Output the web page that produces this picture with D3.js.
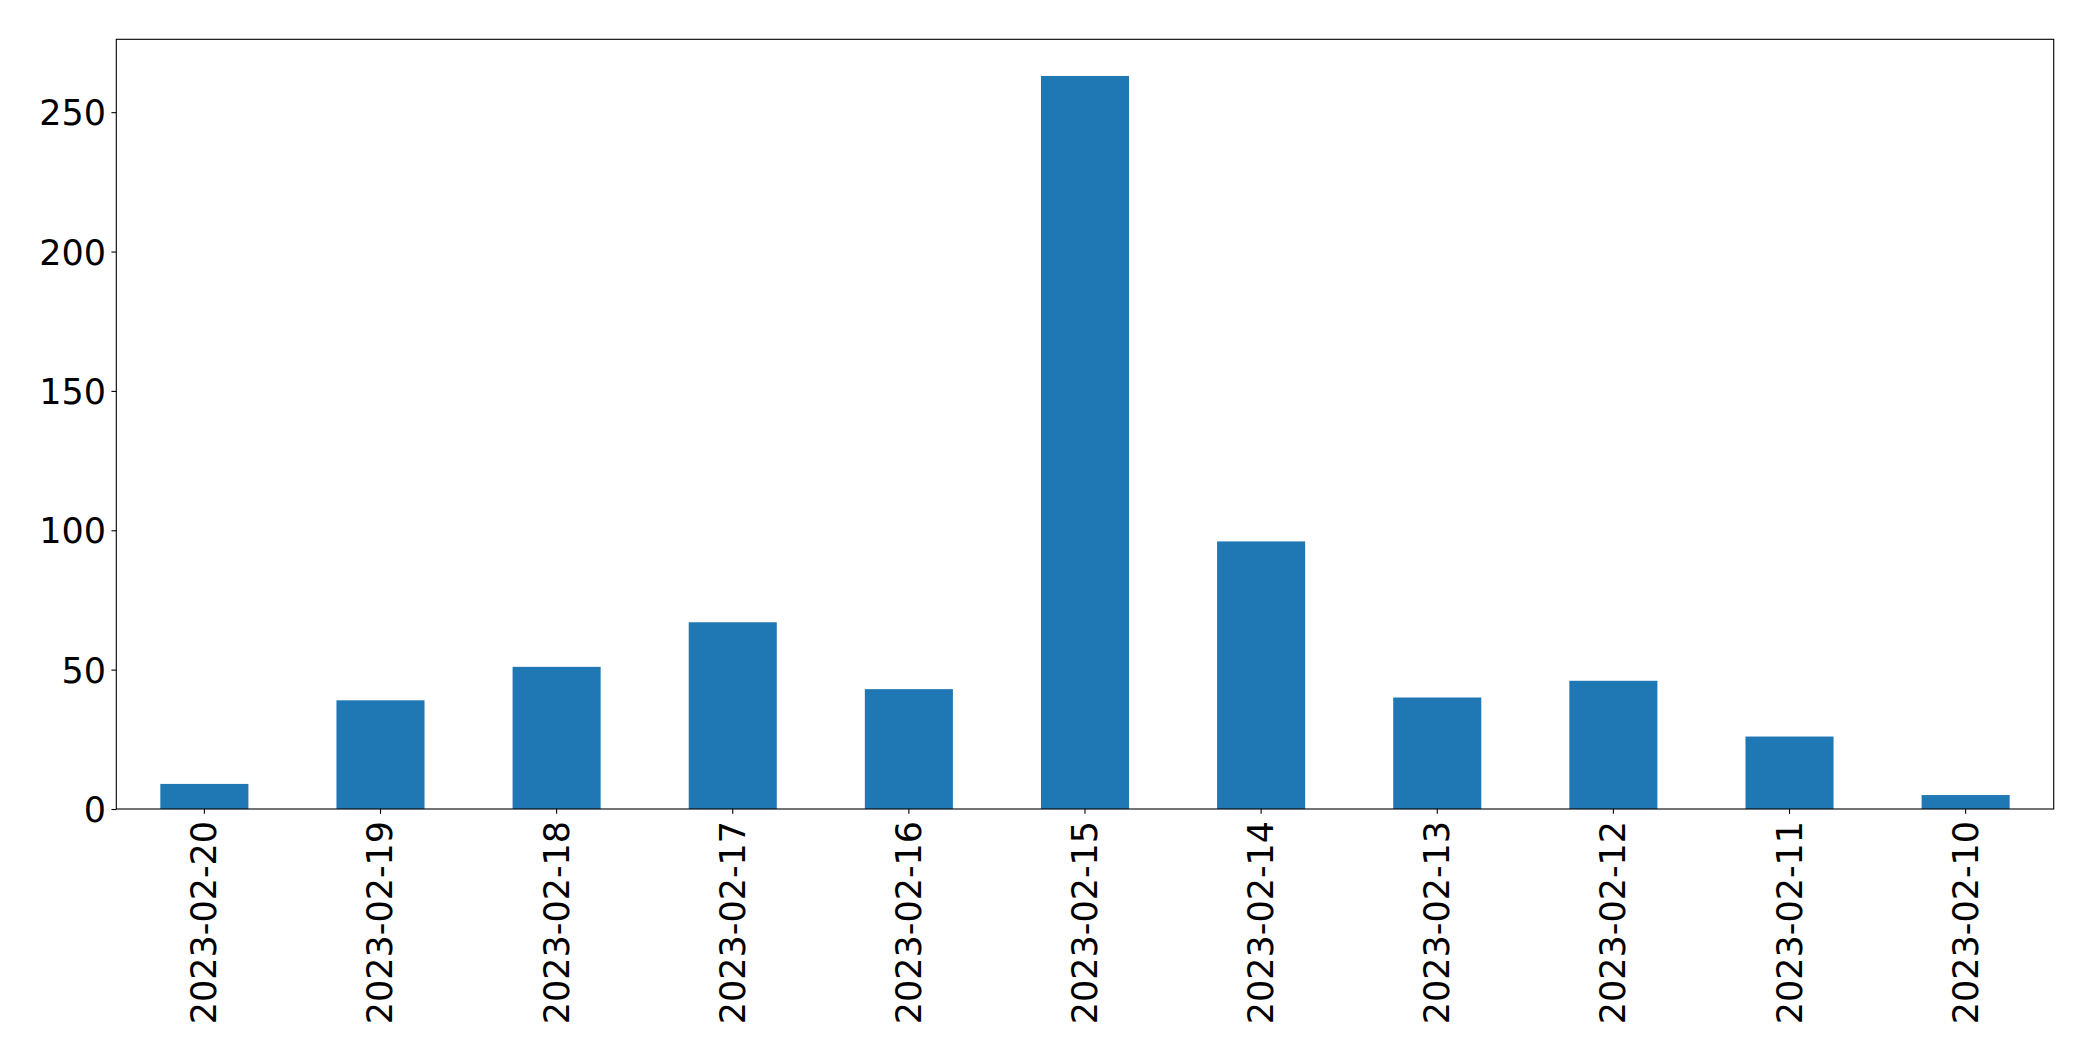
<!DOCTYPE html>
<html>
<head>
<meta charset="utf-8">
<script src="https://cdn.jsdelivr.net/npm/d3@7"></script>
<style>
  html, body { margin: 0; padding: 0; background: #fff; }
  svg { display: block; }
  text { font-family: "DejaVu Sans", sans-serif; fill: #000; }
</style>
</head>
<body>
<svg id="chart" width="2093" height="1061"></svg>
<script>
const categories = ["2023-02-20","2023-02-19","2023-02-18","2023-02-17","2023-02-16","2023-02-15","2023-02-14","2023-02-13","2023-02-12","2023-02-11","2023-02-10"];
const values = [9, 39, 51, 67, 43, 263, 96, 40, 46, 26, 5];
const yTicks = [0, 50, 100, 150, 200, 250];

const W = 2093, H = 1061;
const margin = {left: 116.3, right: W - 2053.7, top: 39.3, bottom: H - 809};
const iw = W - margin.left - margin.right;
const ih = H - margin.top - margin.bottom;

const svg = d3.select("#chart");
const g = svg.append("g").attr("transform", `translate(${margin.left},${margin.top})`);

const x = d3.scaleBand().domain(categories).range([0, iw]).paddingInner(0).paddingOuter(0);
const yMax = d3.max(values) * 1.05;
const y = d3.scaleLinear().domain([0, yMax]).range([ih, 0]);

const barW = x.bandwidth() * 0.5;
g.selectAll("rect.bar").data(values).join("rect")
  .attr("class", "bar")
  .attr("x", (d, i) => x(categories[i]) + (x.bandwidth() - barW) / 2)
  .attr("width", barW)
  .attr("y", d => y(d))
  .attr("height", d => ih - y(d))
  .attr("fill", "#1f77b4");

const tickLen = 4.86;
const fs = 35;

// Y axis
const yAxis = g.append("g").call(d3.axisLeft(y).tickValues(yTicks).tickSize(tickLen).tickPadding(5.5).tickFormat(d3.format("d")));
yAxis.select(".domain").remove();
yAxis.selectAll(".tick line").attr("stroke", "#000").attr("stroke-width", 1.1);
yAxis.selectAll(".tick text").attr("font-size", fs).attr("font-family", "DejaVu Sans").attr("fill", "#000").attr("dy", "0.36em");

// X axis
const xAxis = g.append("g").attr("transform", `translate(0,${ih})`)
  .call(d3.axisBottom(x).tickSize(tickLen).tickPadding(0));
xAxis.select(".domain").remove();
xAxis.selectAll(".tick line").attr("stroke", "#000").attr("stroke-width", 1.1);
xAxis.selectAll(".tick text")
  .attr("font-size", fs).attr("font-family", "DejaVu Sans").attr("fill", "#000")
  .attr("text-anchor", "end")
  .attr("dy", null)
  .attr("y", null)
  .attr("dominant-baseline", "central")
  .attr("transform", `translate(0,${tickLen + 7}) rotate(-90)`);

// Frame
g.append("rect").attr("x", 0).attr("y", 0).attr("width", iw).attr("height", ih)
  .attr("fill", "none").attr("stroke", "#000").attr("stroke-width", 1.1);
</script>
</body>
</html>
